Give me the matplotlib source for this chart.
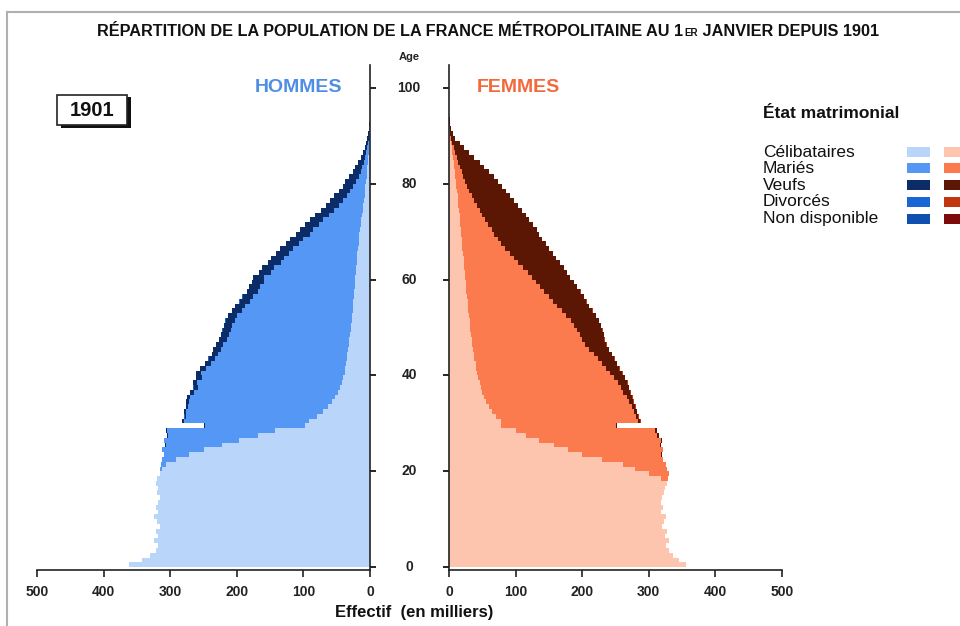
import matplotlib
matplotlib.use("Agg")
import matplotlib.pyplot as plt
import matplotlib.transforms as mtrans
from matplotlib.patches import Rectangle
import numpy as np

# --- data (thousands), ages 0..95
ages = list(range(96))

h_celib = [362, 342, 330, 322, 318, 325, 318, 322, 316, 320,
           325, 318, 322, 318, 316, 320, 318, 322, 320, 316,
           312, 306, 292, 272, 250, 222, 196, 168, 142, 98,
           92, 80, 71, 63, 57, 52, 48, 45, 42, 40,
           38, 37, 36, 35, 34, 33, 32, 31, 30, 29,
           28, 27, 27, 26, 26, 25, 24, 24, 23, 23,
           22, 21, 21, 20, 19, 19, 18, 17, 17, 16,
           15, 14, 13, 12, 11, 10, 9, 8, 7.5, 7,
           6, 5, 4.5, 4, 3, 2.5, 2, 1.5, 1, 0.7,
           0.5, 0.3, 0.2, 0.1, 0.1, 0]
h_maries = [0, 0, 0, 0, 0, 0, 0, 0, 0, 0,
            0, 0, 0, 0, 0, 0, 0, 0, 0, 0,
            3, 8, 20, 38, 62, 85, 113, 136, 163, 149,
            188, 196, 205, 210, 215, 218, 216, 214, 218, 213,
            216, 209, 203, 198, 194, 191, 189, 184, 182, 179,
            179, 176, 173, 166, 162, 155, 152, 144, 142, 136,
            137, 128, 123, 114, 110, 102, 98, 89, 83, 74,
            70, 63, 57, 50, 43, 36, 31, 27, 22, 18,
            15, 12, 9.5, 7.5, 6, 4.5, 3.5, 2.5, 1.8, 1.1,
            0.8, 0.5, 0.3, 0.15, 0.1, 0]
h_veufs = [0, 0, 0, 0, 0, 0, 0, 0, 0, 0,
           0, 0, 0, 0, 0, 0, 0, 0, 0, 0,
           0, 0, 0, 0, 0, 0.5, 1, 1, 1.5, 1.5,
           2, 2.5, 3, 3.5, 4, 4.5, 6, 6, 6, 8,
           7, 9, 8.5, 9, 9, 11, 10, 11.5, 11, 13,
           12, 13.5, 13, 14.5, 14, 15.5, 15, 16.5, 16, 17.5,
           17, 18, 18, 19.5, 19, 20, 19.5, 20.5, 20, 21,
           20, 20.5, 20, 20, 20, 20, 20, 19, 17.5, 16,
           16, 14, 12, 10.5, 9, 7, 5.5, 4, 3.2, 2.2,
           1.7, 1.1, 0.7, 0.4, 0.2, 0.1]
h_divorces = [0] * 27 + [0.3, 0.3, 0.4] + [0.5] * 10 + [0.8] * 20 + [0.3] * 15 + [0] * 21
h_nd = [0] * 96

f_celib = [356, 345, 336, 330, 326, 330, 324, 327, 320, 323,
           326, 318, 322, 319, 320, 323, 325, 327, 318, 300,
           280, 262, 230, 200, 178, 158, 135, 115, 100, 78,
           78, 70, 65, 60, 56, 53, 50, 48, 46, 44,
           42, 41, 40, 38, 37, 36, 35, 34, 33, 32,
           31, 31, 30, 29, 28, 28, 27, 26, 26, 25,
           24, 24, 23, 22, 22, 21, 20, 20, 19, 18,
           18, 17, 16, 16, 15, 14, 14, 13, 12, 11,
           10, 9.5, 9, 8, 7, 6, 5, 4, 3, 1.6,
           0.9, 0.5, 0.3, 0.15, 0.1, 0]
f_maries = [0, 0, 0, 0, 0, 0, 0, 0, 0, 0,
            0, 0, 0, 0, 0, 0, 0, 0, 11, 30,
            48, 64, 92, 119, 143, 159, 183, 198, 210, 172,
            206, 211, 213, 215, 215, 214, 212, 210, 208, 204,
            199, 194, 189, 185, 180, 174, 169, 165, 163, 160,
            157, 152, 146, 140, 134, 128, 123, 117, 110, 105,
            100, 94, 88, 81, 75, 70, 64, 58, 54, 50,
            47, 42, 38, 34, 31, 28, 24, 21, 18, 16,
            14, 12, 10, 8, 7, 5.5, 4, 3, 2, 1.1,
            0.6, 0.3, 0.1, 0.05, 0, 0]
f_veufs = [0, 0, 0, 0, 0, 0, 0, 0, 0, 0,
           0, 0, 0, 0, 0, 0, 0, 0, 0, 0,
           0, 0, 0, 0.5, 1, 1, 1.5, 2, 2, 2,
           3, 3.5, 4, 5, 6, 8, 10, 12, 14, 16,
           19, 21, 23, 25, 27, 30, 32, 34, 36, 38,
           40, 42, 44, 46, 48, 50, 52, 54, 56, 57,
           58, 59, 61, 63, 64, 65, 66, 67, 67, 67,
           67, 67, 66, 65, 64, 62, 60, 58, 56, 53,
           50, 45.5, 41, 37, 33, 26.5, 21, 16, 11, 7,
           4, 2.4, 1.2, 0.6, 0.3, 0.1]
f_divorces = [0] * 27 + [0.3, 0.3, 0.4] + [0.6] * 10 + [0.8] * 20 + [0.3] * 15 + [0] * 21
f_nd = [0] * 96

statuts = ["Célibataires", "Mariés", "Veufs", "Divorcés", "Non disponible"]
h_colors = ["#b9d5fa", "#5497f4", "#0b2c66", "#1a66d6", "#0f4fb0"]
f_colors = ["#fdc4ae", "#fb7b4f", "#5b1604", "#c2370f", "#7c0a08"]

W, H = 960, 626
fig = plt.figure(figsize=(W / 100, H / 100), dpi=100)
fig.patch.set_facecolor("white")

sans = ["Liberation Sans", "DejaVu Sans"]


def fx(px):
    return px / W


def fy(py):
    return 1 - py / H


y_lo, y_hi = -0.6, 104.8
ax_l = fig.add_axes([fx(37), fy(570), fx(370) - fx(37), fy(65) - fy(570)])
ax_r = fig.add_axes([fx(449), fy(570), fx(782) - fx(449), fy(65) - fy(570)])

h_series = [h_celib, h_maries, h_veufs, h_divorces, h_nd]
f_series = [f_celib, f_maries, f_veufs, f_divorces, f_nd]

for ax, series, cols in [(ax_l, h_series, h_colors), (ax_r, f_series, f_colors)]:
    left = np.zeros(len(ages))
    for vals, c in zip(series, cols):
        vals = np.array(vals, dtype=float)
        ax.barh(ages, vals, left=left, height=1.0, align="edge",
                color=c, linewidth=0)
        left = left + vals
    ax.set_xlim(0, 500)
    ax.set_ylim(y_lo, y_hi)
    ax.set_xticks([0, 100, 200, 300, 400, 500])
    ax.set_yticks([0, 20, 40, 60, 80, 100])
    ax.set_yticklabels([])
    ax.spines["top"].set_visible(False)
    ax.tick_params(axis="x", direction="out", length=5, width=1.2, pad=6,
                   labelsize=10, colors="#222222")
    ax.tick_params(axis="y", direction="out", length=4, width=1.2)
    for lab in ax.get_xticklabels():
        lab.set_fontweight("bold")
        lab.set_family(sans)
    for s in ax.spines.values():
        s.set_linewidth(1.2)
        s.set_color("#222222")
    ax.set_facecolor("none")

ax_l.invert_xaxis()
ax_l.spines["left"].set_visible(False)
ax_l.yaxis.tick_right()
ax_r.spines["right"].set_visible(False)
ax_r.yaxis.tick_left()

# age labels between the two axes
tr = mtrans.blended_transform_factory(fig.transFigure, ax_l.transData)
for a in [0, 20, 40, 60, 80, 100]:
    fig.text(fx(409), a, str(a), transform=tr, ha="center", va="center",
             fontsize=10, fontweight="bold", family=sans, color="#222222")
fig.text(fx(409), fy(57), "Age", ha="center", va="center", fontsize=8,
         fontweight="bold", family=sans, color="#222222")

# outer frame
fig.add_artist(plt.Line2D([fx(7), fx(7)], [fy(12), 0], transform=fig.transFigure,
                          color="#b0b0b0", lw=1.5))
fig.add_artist(plt.Line2D([fx(7), 1], [fy(12), fy(12)], transform=fig.transFigure,
                          color="#b0b0b0", lw=1.5))

# title, with small "ER" -- sized to span the reference width
title_a = "RÉPARTITION DE LA POPULATION DE LA FRANCE MÉTROPOLITAINE AU 1"
title_b = "ER"
title_c = " JANVIER DEPUIS 1901"
r = fig.canvas.get_renderer()


def draw_title(fs, x0=97, y0=31):
    tkw = dict(fontweight="bold", family=sans, color="#111111", va="center",
               ha="left")
    t1 = fig.text(fx(x0), fy(y0), title_a, fontsize=fs, **tkw)
    bb = t1.get_window_extent(r)
    t2 = fig.text(bb.x1 / W + 1 / W, fy(y0 + 1.5), title_b, fontsize=fs * 0.6, **tkw)
    bb2 = t2.get_window_extent(r)
    t3 = fig.text(bb2.x1 / W, fy(y0), title_c, fontsize=fs, **tkw)
    return [t1, t2, t3], t3.get_window_extent(r).x1 - x0


parts, width = draw_title(11)
for p in parts:
    p.remove()
draw_title(11 * 781 / width)

# sex labels
fig.text(fx(298), fy(87), "HOMMES", ha="center", va="center", fontsize=14,
         fontweight="bold", family=sans, color="#4f8ee2")
fig.text(fx(518), fy(87), "FEMMES", ha="center", va="center", fontsize=14,
         fontweight="bold", family=sans, color="#f2693c")

# year box with shadow
fig.add_artist(Rectangle((fx(61), fy(128)), fx(70), fy(97) - fy(128),
                         transform=fig.transFigure, facecolor="#111111", lw=0))
fig.add_artist(Rectangle((fx(57), fy(125)), fx(70), fy(95) - fy(125),
                         transform=fig.transFigure, facecolor="white",
                         edgecolor="#222222", lw=1.2))
fig.text(fx(92), fy(110), "1901", ha="center", va="center", fontsize=14.5,
         fontweight="bold", family=sans, color="#111111")

# legend
fig.text(fx(763), fy(113), "État matrimonial", ha="left", va="center",
         fontsize=12.5, fontweight="bold", family=sans, color="#111111")
row_y = [152, 168, 185, 202, 219]
fig.text(fx(763), fy(145), "\n".join(statuts), ha="left", va="top", fontsize=12.5,
         family=sans, color="#111111", linespacing=1.12)
for yy, hc, fc in zip(row_y, h_colors, f_colors):
    fig.add_artist(Rectangle((fx(907), fy(yy + 5)), fx(23), fy(yy - 5) - fy(yy + 5),
                             transform=fig.transFigure, facecolor=hc, lw=0))
    fig.add_artist(Rectangle((fx(944), fy(yy + 5)), fx(23), fy(yy - 5) - fy(yy + 5),
                             transform=fig.transFigure, facecolor=fc, lw=0))

fig.text(fx(414), fy(613), "Effectif  (en milliers)", ha="center", va="center",
         fontsize=12, fontweight="bold", family=sans, color="#111111")

fig.savefig("out.png", dpi=100)
